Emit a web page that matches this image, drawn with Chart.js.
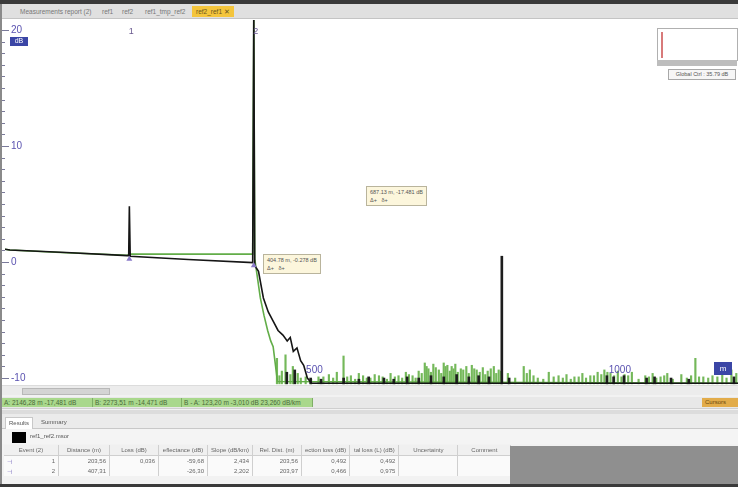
<!DOCTYPE html>
<html><head><meta charset="utf-8">
<script src="https://cdn.jsdelivr.net/npm/chart.js@4.4.0/dist/chart.umd.min.js"></script>
<style>
html,body{margin:0;padding:0;}
body{width:738px;height:487px;overflow:hidden;position:relative;background:#f2f2f2;font-family:"Liberation Sans",Arial,sans-serif;font-size:7px;color:#555;}
.abs{position:absolute;}
#topline{left:0;top:0;width:738px;height:4px;background:#3a3a3a;}
#tabs{left:0;top:4px;width:738px;height:14px;background:#e0e0e0;border-bottom:1px solid #c4c4c4;}
.tab{position:absolute;top:3px;height:9px;line-height:9px;font-size:6.5px;color:#777;white-space:nowrap;}
.tab.act{background:#f4c53c;color:#6a5520;padding:0 4px;top:2px;height:11px;line-height:11px;}
#plot{left:2px;top:19px;width:736px;height:366px;background:#fff;}
#cv{position:absolute;left:-2px;top:1px;}
#leftb{left:0;top:4px;width:2px;height:483px;background:#8a8a8a;}
.note{position:absolute;background:#fcf6dc;border:1px solid #b9b49c;font-size:5.5px;line-height:8px;color:#555;padding:1px 3px;white-space:nowrap;}
#scroll{left:2px;top:385px;width:736px;height:9px;background:#ececec;border-top:1px solid #dcdcdc;}
#thumb{left:20px;top:2px;width:86px;height:5px;background:#d4d4d4;border:1px solid #b8b8b8;}
#status{left:2px;top:397px;width:736px;height:11px;background:#e8e8e8;border-bottom:1px solid #cfcfcf;}
.st{position:absolute;top:1px;height:9px;line-height:9px;background:#a9d88c;color:#4a6a3a;font-size:6.5px;padding:0 2px;white-space:nowrap;border-right:1px solid #7fae66;}
#cursors{left:702px;top:398px;width:36px;height:9px;line-height:9px;background:#e2ac4a;color:#6a4a10;font-size:6px;padding-left:3px;}
#sep{left:2px;top:410px;width:736px;height:4px;background:#dcdcdc;}
#rtabs{left:2px;top:414px;width:736px;height:14px;background:#ebebeb;border-bottom:1px solid #c8c8c8;}
.rt{position:absolute;top:3px;height:11px;line-height:10px;font-size:6px;color:#555;padding:0 3px;}
#legend{left:2px;top:429px;width:736px;height:15px;background:#f4f4f4;}
#sq{left:12px;top:432px;width:14px;height:11px;background:#000;}
#lgt{left:30px;top:433px;font-size:6px;color:#555;}
table{position:absolute;left:4px;top:445px;border-collapse:collapse;font-size:6px;color:#666;background:#fafafa;}
td{border-right:1px solid #cfcfcf;height:10px;padding:0 3px;white-space:nowrap;text-align:right;}
tr.h td{border-bottom:1px solid #cfcfcf;text-align:center;background:#f0f0f0;}
#gray{left:510px;top:446px;width:228px;height:38px;background:#8f8f8f;}
#bottom{left:0;top:484px;width:738px;height:3px;background:#3a3a3a;}
#ov{left:657px;top:28px;width:79px;height:31px;background:#fff;border:1px solid #b0b0b0;}
#ovred{left:661px;top:32px;width:2px;height:26px;background:#d87a7a;}
#ovbar{left:657px;top:60px;width:80px;height:6px;background:#bdbdbd;}
#gc{left:668px;top:69px;width:66px;height:9px;line-height:9px;border:1px solid #a8a8a8;background:#f6f6f6;font-size:5.5px;color:#555;text-align:center;}
</style></head>
<body>
<div class="abs" id="topline"></div>
<div class="abs" id="tabs">
  <span class="tab" style="left:20px">Measurements report (2)</span>
  <span class="tab" style="left:102px">ref1</span>
  <span class="tab" style="left:122px">ref2</span>
  <span class="tab" style="left:145px">ref1_tmp_ref2</span>
  <span class="tab act" style="left:192px">ref2_ref1 ✕</span>
</div>
<div class="abs" id="plot"><canvas id="cv" width="738" height="365"></canvas></div>
<div class="abs" id="leftb"></div>
<div class="abs" id="ov"></div><div class="abs" id="ovred"></div><div class="abs" id="ovbar"></div>
<div class="abs" id="gc">Global Ctrl : 35.79 dB</div>
<div class="note" style="left:263px;top:254px;">404.78 m, -0.278 dB<br>Δ+ &nbsp;&nbsp;δ+</div>
<div class="note" style="left:366px;top:186px;">687.13 m, -17.481 dB<br>Δ+ &nbsp;&nbsp;δ+</div>
<div class="abs" id="scroll"><div class="abs" id="thumb"></div></div>
<div class="abs" id="status">
  <span class="st" style="left:0px;width:86px">A: 2146,28 m  -17,481 dB</span>
  <span class="st" style="left:91px;width:84px">B: 2273,51 m  -14,471 dB</span>
  <span class="st" style="left:180px;width:126px">B - A: 123,20 m  -3,010 dB  23,260 dB/km</span>
</div>
<div class="abs" id="cursors">Cursors</div>
<div class="abs" id="sep"></div>
<div class="abs" id="rtabs">
  <span class="rt" style="left:3px;background:#fff;border:1px solid #c8c8c8;border-bottom:none;">Results</span>
  <span class="rt" style="left:36px;">Summary</span>
</div>
<div class="abs" id="legend"></div>
<div class="abs" id="sq"></div>
<div class="abs" id="lgt">ref1_ref2.msor</div>
<table>
 <tr class="h"><td style="width:48px">Event (2)</td><td style="width:44px">Distance (m)</td><td style="width:42px">Loss (dB)</td><td style="width:42px">eflectance (dB)</td><td style="width:38px">Slope (dB/km)</td><td style="width:42px">Rel. Dist. (m)</td><td style="width:40px">ection loss (dB)</td><td style="width:42px">tal loss (L) (dB)</td><td style="width:52px">Uncertainty</td><td style="width:46px">Comment</td></tr>
 <tr><td><span style="color:#6a5ab8;float:left">⊣</span>1</td><td>203,56</td><td>0,036</td><td>-59,68</td><td>2,434</td><td>203,56</td><td>0,492</td><td>0,492</td><td></td><td></td></tr>
 <tr><td><span style="color:#6a5ab8;float:left">⊣</span>2</td><td>407,31</td><td></td><td>-26,30</td><td>2,202</td><td>203,97</td><td>0,466</td><td>0,975</td><td></td><td></td></tr>
</table>
<div class="abs" id="gray"></div>
<div class="abs" id="bottom"></div>
<script>
// ---- data ----
const blackDist = [0, 8, 100, 200, 202.5, 203.6, 205, 300, 405.5, 407.3, 408.8, 415, 423, 431, 439, 447, 455, 462, 467, 472, 478, 484, 489, 495, 502, 1200];
const blackDB   = [1.1, 1.03, 0.82, 0.55, 0.55, 4.8, 0.5, 0.22, -0.05, 21.5, -0.3, -0.8, -3.1, -4.3, -5.1, -5.9, -6.3, -6.8, -6.5, -7.7, -7.4, -8.5, -8.9, -10.0, -10.45, -10.45];
const greenDist = [0, 8, 100, 200, 205, 300, 405.5, 407.3, 408.8, 418, 424, 430, 435, 439, 443, 446, 1200];
const greenDB   = [1.1, 1.03, 0.8, 0.58, 0.68, 0.68, 0.68, 21.5, 0.3, -3.1, -4.6, -5.9, -6.8, -7.3, -9.0, -10.3, -10.45];
const greenSpikeDist = [444,452,458,470,478,491,512,529,542,553,565,578,591,604,617,630,643,655,666,676,686,692,700,709,717,723,730,736,745,754,763,771,781,789,799,807,822,848,858,871,889,905,918,931,944,957,969,980,990,1002,1013,1025,1047,1059,1072,1083,1106,1129,1142,1157,1173,1188,1196,
  448,466,483,500,520,536,559,572,585,597,611,624,637,649,660,671,681,689,696,704,713,720,727,733,740,749,758,767,776,785,794,803,811,834,853,864,880,897,912,925,938,950,963,975,985,996,1008,1019,1036,1053,1065,1078,1092,1115,1122,1135,1150,1165,1180];
const greenSpikeDB   = [-8.3,-9.4,-8.0,-9.0,-9.6,-9.9,-9.9,-9.7,-9.5,-8.1,-9.8,-9.6,-10.0,-9.7,-9.9,-9.6,-9.8,-9.5,-9.8,-9.4,-8.7,-9.2,-8.8,-9.3,-8.7,-8.9,-9.0,-8.8,-9.2,-9.0,-8.9,-9.3,-9.1,-9.4,-9.0,-9.3,-9.6,-9.0,-9.3,-10.0,-9.5,-9.8,-9.7,-9.9,-9.6,-9.8,-9.5,-9.3,-9.6,-9.4,-9.7,-9.5,-9.8,-9.6,-9.9,-9.6,-9.7,-8.3,-9.9,-9.8,-9.4,-9.3,-9.6,
  -9.8,-9.7,-10.0,-10.1,-9.9,-10.0,-9.9,-10.1,-9.8,-10.0,-9.8,-10.1,-9.9,-10.0,-9.7,-10.0,-9.6,-9.0,-9.5,-9.1,-9.6,-9.0,-9.4,-9.2,-9.5,-9.3,-9.6,-9.2,-9.5,-9.7,-9.2,-9.6,-9.4,-10.0,-9.6,-9.8,-10.1,-9.9,-10.0,-10.1,-9.9,-10.0,-9.8,-9.7,-9.5,-9.8,-9.9,-9.8,-10.1,-9.9,-10.0,-9.8,-10.1,-10.0,-9.8,-9.9,-10.0,-9.9,-10.0];
const blackSpikeDist = [463,476,502,519,556,581,597,622,638,660,679,699,720,741,761,777,794,815,827,987,998,1015,1052,1065,1092,1121,1195];
const blackSpikeDB   = [-9.5,-9.3,-10.0,-10.1,-10.0,-10.1,-9.9,-10.0,-10.1,-9.9,-10.0,-9.8,-9.9,-9.7,-9.9,-9.8,-9.9,0.5,-10.0,-9.8,-9.9,-9.8,-10.0,-9.9,-10.0,-10.1,-9.9];
const noiseFloor = -10.5;
const eventDist = [203.56, 407.31];
const eventLabels = ['1', '2'];
const eventMarkDB = [0.45, -0.1];
const yLabels = [20, 10, 0, -10];
const xLabels = [500, 1000];

const pts = (xs, ys) => xs.map((d, i) => ({x: d, y: ys[i]}));
const bars = (xs, ys) => xs.map((d, i) => ({x: d, y: [noiseFloor, ys[i]]}));

const overlay = {
  id: 'overlay',
  afterDatasetsDraw(chart) {
    const {ctx, scales: {x, y}} = chart;
    ctx.save();
    ctx.strokeStyle = '#7a7a9a'; ctx.lineWidth = 1;
    for (let v = -10; v <= 20; v++) {
      const py = Math.round(y.getPixelForValue(v)) + 0.5;
      ctx.beginPath(); ctx.moveTo(2, py); ctx.lineTo(v % 10 === 0 ? 9 : 5, py); ctx.stroke();
    }
    ctx.font = '10px "Liberation Sans", Arial';
    ctx.fillStyle = '#5a52b0'; ctx.textBaseline = 'middle'; ctx.textAlign = 'left';
    yLabels.forEach(v => ctx.fillText(String(v), 11, y.getPixelForValue(v)));
    ctx.fillStyle = '#3b46a6'; ctx.fillRect(10, 17, 18, 9);
    ctx.fillStyle = '#fff'; ctx.font = '7px "Liberation Sans", Arial'; ctx.textAlign = 'center';
    ctx.fillText('dB', 19, 21.5);
    ctx.font = '10px "Liberation Sans", Arial'; ctx.fillStyle = '#5a52b0';
    xLabels.forEach(v => ctx.fillText(String(v), x.getPixelForValue(v) + 4, 350));
    ctx.fillStyle = '#3b46a6'; ctx.fillRect(714, 342, 18, 13);
    ctx.fillStyle = '#fff'; ctx.font = '8px "Liberation Sans", Arial';
    ctx.fillText('m', 723, 348.5);
    eventDist.forEach((d, i) => {
      const px = x.getPixelForValue(d);
      ctx.fillStyle = '#6a5a90'; ctx.font = '9px "Liberation Sans", Arial';
      ctx.fillText(eventLabels[i], px + 2, 12);
      const py = y.getPixelForValue(eventMarkDB[i]);
      ctx.fillStyle = '#8a7ac8';
      ctx.beginPath(); ctx.moveTo(px - 3, py + 4); ctx.lineTo(px + 3, py + 4); ctx.lineTo(px, py - 1); ctx.closePath(); ctx.fill();
    });
    ctx.restore();
  }
};

new Chart(document.getElementById('cv'), {
  type: 'line',
  data: {
    datasets: [
      {type: 'line', data: pts(blackDist, blackDB), borderColor: '#151515', borderWidth: 1.6, pointRadius: 0, tension: 0, order: 0},
      {type: 'bar', data: bars(blackSpikeDist, blackSpikeDB), backgroundColor: '#1d1d1d', barThickness: 2, order: 1},
      {type: 'line', data: pts(greenDist, greenDB), borderColor: '#62ad48', borderWidth: 1.6, pointRadius: 0, tension: 0, order: 2},
      {type: 'bar', data: bars(greenSpikeDist, greenSpikeDB), backgroundColor: '#74b85a', barThickness: 1.5, order: 3}
    ]
  },
  options: {
    responsive: false, animation: false, events: [],
    layout: {padding: {left: 5, right: 0, top: 0, bottom: 0}},
    plugins: {legend: {display: false}, tooltip: {enabled: false}},
    scales: {
      x: {type: 'linear', min: 0, max: 1200, display: false, offset: false},
      y: {type: 'linear', min: -10.6, max: 20.86, display: false}
    }
  },
  plugins: [overlay]
});
</script>
</body></html>
